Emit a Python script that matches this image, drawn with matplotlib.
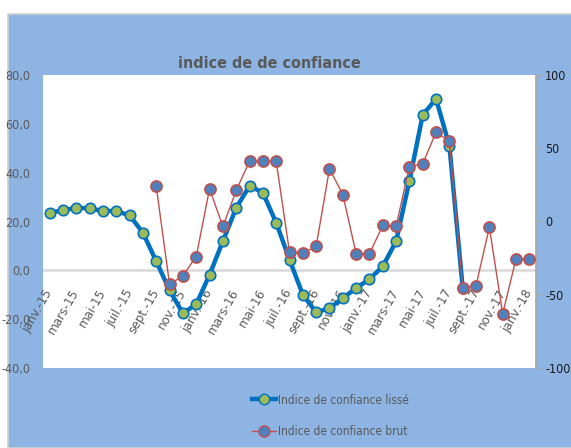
import numpy as np
import matplotlib
matplotlib.use("Agg")
import matplotlib.pyplot as plt
from matplotlib.patches import Rectangle
from matplotlib.lines import Line2D

plt.rcParams['font.family'] = ['DejaVu Sans']
plt.rcParams['font.stretch'] = 'condensed'

# ---------- données ----------
mois = ["janv.", "févr.", "mars", "avr.", "mai", "juin", "juil.", "août", "sept.", "oct.", "nov.", "déc."]
annees = ["15", "16", "17", "18"]
categories = [f"{m}-{a}" for a in annees for m in mois][:37]   # janv.-15 .. janv.-18

# indice lissé (axe gauche), jusqu'à août-17
lisse = [23.6, 24.6, 25.6, 25.4, 24.3, 24.3, 22.5, 15.4, 3.7, -8.2, -17.6, -13.9,
         -1.8, 11.9, 25.6, 34.6, 31.8, 19.5, 4.4, -10.0, -17.2, -15.5, -11.4, -7.3,
         -3.6, 1.6, 11.9, 36.6, 63.7, 70.2, 51.0, -7.3]
# indice brut (axe droit), à partir de sept.-15
brut = [23.9, -43.0, -37.0, -23.9, 22.3, -3.4, 21.2, 41.2, 41.2, 41.2, -21.0, -21.6,
        -17.0, 36.0, 18.4, -22.0, -22.0, -2.7, -3.2, 37.5, 39.4, 61.0, 54.8, -45.3,
        -43.7, -3.9, -63.0, -25.5, -25.5]
debut_brut = 8

gauche_ticks = [80, 60, 40, 20, 0, -20, -40]
droite_ticks = [100, 50, 0, -50, -100]

GRIS = "#595959"
FOND = "#8EB4E3"

fig = plt.figure(figsize=(5.71, 4.48), dpi=100)
fig.patch.set_facecolor("white")
fig.patches.append(Rectangle((8/571, 0), 1, 1 - 14/448, transform=fig.transFigure,
                             facecolor=FOND, edgecolor="#D0D0D0", lw=1.2, zorder=-5))

ax = fig.add_axes([43/571, 1 - 368/448, 493/571, 293/448])
ax.set_facecolor("white")
ax2 = ax.twinx()

x_lisse = np.arange(len(lisse))
x_brut = np.arange(debut_brut, debut_brut + len(brut))

ax.set_xlim(-0.5, 36.5)
ax.set_ylim(-40, 80)
ax2.set_ylim(-100, 100)

ax.axhline(0, color="#D9D9D9", lw=1.8, zorder=1)

ax.plot(x_lisse, lisse, color="#0070C0", lw=3.2, marker="o", ms=7.5,
        mfc="#9BBB59", mec="#0070C0", mew=1.2, zorder=3)
ax2.plot(x_brut, brut, color="#C0504D", lw=1, marker="o", ms=8,
         mfc="#4F81BD", mec="#C0504D", mew=1.2, zorder=4)

ax.set_yticks(gauche_ticks)
ax.set_yticklabels([f"{v:.1f}".replace(".", ",") for v in gauche_ticks])
ax.tick_params(axis="y", length=0, labelsize=9, labelcolor=GRIS, pad=9)

ax2.set_yticks(droite_ticks)
ax2.set_yticklabels([str(v) for v in droite_ticks])
ax2.tick_params(axis="y", length=4, color="#A6A6A6", labelsize=9, labelcolor="#1a1a1a", pad=2.5)

pos = list(range(0, 37, 2))
ax.set_xticks(pos)
ax.set_xticklabels([categories[i] for i in pos], rotation=60, ha="right", va="center",
                   rotation_mode="anchor", color=GRIS, fontsize=9.5)
ax.tick_params(axis="x", length=0, pad=-56)

for s in ["top", "left", "bottom", "right"]:
    ax.spines[s].set_visible(False)
    ax2.spines[s].set_visible(False)
ax2.spines["right"].set_visible(True)
ax2.spines["right"].set_color("#A6A6A6")
ax2.spines["right"].set_linewidth(1.2)

fig.text(269/571, 1 - 63/448, "indice de de confiance", ha="center", va="center",
         fontsize=11.5, fontweight="bold", color=GRIS)

handles = [
    Line2D([], [], color="#0070C0", lw=3.2, marker="o", ms=7.5, mfc="#9BBB59", mec="#0070C0"),
    Line2D([], [], color="#C0504D", lw=1, marker="o", ms=8, mfc="#4F81BD", mec="#C0504D"),
]
fig.legend(handles, ["Indice de confiance lissé", "Indice de confiance brut"],
           loc="center left", bbox_to_anchor=(246/571, 1 - 416/448), frameon=False,
           fontsize=8.5, labelcolor=GRIS, handlelength=2.0, handletextpad=0.2,
           labelspacing=1.6, borderpad=0)

fig.savefig("out.png", dpi=100)
